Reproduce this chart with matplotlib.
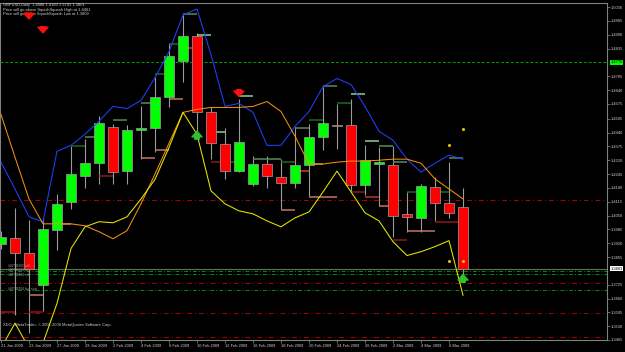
import numpy as np
import matplotlib
matplotlib.use('Agg')
from matplotlib import pyplot as plt
from matplotlib import transforms

#   GBPUSD daily bars
dates = ['21 Jan 2009', '22 Jan 2009', '23 Jan 2009', '26 Jan 2009', '27 Jan 2009', '28 Jan 2009',
         '29 Jan 2009', '30 Jan 2009', '2 Feb 2009', '3 Feb 2009', '4 Feb 2009', '5 Feb 2009',
         '6 Feb 2009', '9 Feb 2009', '10 Feb 2009', '11 Feb 2009', '12 Feb 2009', '13 Feb 2009',
         '16 Feb 2009', '17 Feb 2009', '18 Feb 2009', '19 Feb 2009', '20 Feb 2009', '23 Feb 2009',
         '24 Feb 2009', '25 Feb 2009', '26 Feb 2009', '27 Feb 2009', '2 Mar 2009', '3 Mar 2009',
         '4 Mar 2009', '5 Mar 2009', '6 Mar 2009', '9 Mar 2009']
opens = [1.3918, 1.3946, 1.3872, 1.3722, 1.3984, 1.4115, 1.4236, 1.4297, 1.4465, 1.4260, 1.4451, 1.4460,
         1.4605, 1.4778, 1.4895, 1.4535, 1.4386, 1.4260, 1.4200, 1.4292, 1.4232, 1.4204, 1.4288, 1.4418,
         1.4476, 1.4474, 1.4194, 1.4290, 1.4288, 1.4055, 1.4040, 1.4185, 1.4110, 1.4088]
highs = [1.3975, 1.4085, 1.4030, 1.4040, 1.4150, 1.4376, 1.4409, 1.4516, 1.4479, 1.4474, 1.4563, 1.4703,
         1.4862, 1.4993, 1.4909, 1.4560, 1.4460, 1.4596, 1.4330, 1.4330, 1.4316, 1.4465, 1.4479, 1.4656,
         1.4572, 1.4600, 1.4381, 1.4372, 1.4376, 1.4162, 1.4200, 1.4232, 1.4302, 1.4180]
lows = [1.3895, 1.3582, 1.3500, 1.3600, 1.3890, 1.4080, 1.4180, 1.4200, 1.4200, 1.4200, 1.4316, 1.4350,
        1.4560, 1.4680, 1.4423, 1.4316, 1.4222, 1.4255, 1.4190, 1.4180, 1.4082, 1.4180, 1.4143, 1.4358,
        1.4362, 1.4162, 1.4148, 1.4096, 1.3950, 1.3974, 1.3974, 1.4026, 1.4040, 1.3741]
closes = [1.3951, 1.3872, 1.3797, 1.3988, 1.4106, 1.4246, 1.4297, 1.4484, 1.4255, 1.4451, 1.4460, 1.4605,
          1.4801, 1.4895, 1.4535, 1.4390, 1.4260, 1.4395, 1.4292, 1.4236, 1.4204, 1.4288, 1.4418, 1.4484,
          1.4472, 1.4194, 1.4311, 1.4300, 1.4049, 1.4045, 1.4190, 1.4110, 1.4063, 1.3801]

#   Indicator lines
upper_band = [1.4301, 1.4175, 1.4044, 1.4021, 1.4352, 1.4380, 1.4432, 1.4493, 1.4563, 1.4553, 1.4591, 1.4698,
              1.4820, 1.4993, 1.5021, 1.4806, 1.4563, 1.4577, 1.4535, 1.4380, 1.4380, 1.4469, 1.4539, 1.4656,
              1.4694, 1.4666, 1.4563, 1.4446, 1.4404, 1.4315, 1.4254, 1.4296, 1.4334, 1.4315]
orange_line = [1.4525, 1.4324, 1.4128, 1.4011, 1.4011, 1.4011, 1.4002, 1.3974, 1.3941, 1.3979, 1.4105, 1.4245,
               1.4390, 1.4535, 1.4549, 1.4558, 1.4558, 1.4558, 1.4563, 1.4586, 1.4539, 1.4423, 1.4292, 1.4292,
               1.4301, 1.4306, 1.4306, 1.4310, 1.4315, 1.4315, 1.4296, 1.4222, 1.4175, 1.4128]
yellow_line = [1.3427, 1.3544, 1.3427, 1.3451, 1.3637, 1.3895, 1.3997, 1.4021, 1.4016, 1.4044, 1.4128, 1.4220,
               1.4370, 1.4535, 1.4432, 1.4166, 1.4105, 1.4072, 1.4058, 1.4025, 1.3997, 1.4039, 1.4067, 1.4161,
               1.4259, 1.4161, 1.4063, 1.4025, 1.3927, 1.3862, 1.3880, 1.3904, 1.3932, 1.3675]

#   Order / level lines
green_level = 1.4770
current_price = 1.3801
red_levels = [1.4125, 1.3731, 1.3591, 1.3479]
green_levels = [1.3787, 1.3773, 1.3698]

#   Short level dashes: (bar, price, colour)
dash_marks = [(13, 1.4997, '#5a8a5a'), (12, 1.4857, '#1e6b1e'), (14, 1.4899, '#8fd18f'), (13, 1.4838, '#e03030'),
              (12, 1.4600, '#c07860'), (11, 1.4717, '#1e6b1e'), (10, 1.4577, '#5a8a5a'), (8, 1.4497, '#5a8a5a'),
              (6, 1.4418, '#5a8a5a'), (5, 1.4376, '#1e6b1e'), (7, 1.4236, '#8b1a1a'), (10, 1.4320, '#c07860'),
              (11, 1.4357, '#c07860'), (15, 1.4441, '#8fd18f'), (17, 1.4614, '#8fd18f'), (15, 1.4301, '#8b1a1a'),
              (16, 1.4301, '#1e6b1e'), (18, 1.4315, '#5a8a5a'), (19, 1.4315, '#5a8a5a'), (20, 1.4301, '#1e6b1e'),
              (21, 1.4460, '#5a8a5a'), (20, 1.4077, '#c07860'), (21, 1.4259, '#e03030'), (22, 1.4292, '#c07860'),
              (22, 1.4497, '#1e6b1e'), (23, 1.4661, '#5a8a5a'), (22, 1.4138, '#c07860'), (23, 1.4138, '#c07860'),
              (24, 1.4577, '#1e6b1e'), (25, 1.4619, '#8fd18f'), (25, 1.4161, '#8b1a1a'), (26, 1.4399, '#8fd18f'),
              (26, 1.4138, '#c03030'), (27, 1.4376, '#5a8a5a'), (27, 1.4095, '#c07860'), (28, 1.4301, '#5a8a5a'),
              (28, 1.3937, '#8b1a1a'), (29, 1.4161, '#1e6b1e'), (29, 1.3979, '#c07860'), (30, 1.3979, '#c07860'),
              (31, 1.4161, '#1e6b1e'), (31, 1.4021, '#8b1a1a'), (32, 1.4021, '#8b1a1a'), (32, 1.4320, '#5a8a5a'),
              (4, 1.4011, '#c07860'), (0, 1.3595, '#8b1a1a'), (2, 1.3595, '#8b1a1a'), (2, 1.3675, '#c07860')]

#   Signal arrows: (bar, tail, tip)
down_arrows = [(2, 1.5002, 1.4974), (3, 1.4937, 1.4909), (17, 1.4642, 1.4609)]
up_arrows = [(14, 1.4409, 1.4446), (33, 1.3736, 1.3773)]
dots = [(33, 1.4455), (32, 1.4380), (32, 1.3834), (33, 1.3834)]

price_ticks = [1.5030, 1.4965, 1.4900, 1.4835, 1.4705, 1.4640, 1.4575, 1.4505, 1.4440, 1.4375,
               1.4310, 1.4245, 1.4180, 1.4115, 1.4050, 1.3985, 1.3920, 1.3855, 1.3725, 1.3660,
               1.3595, 1.3530, 1.3465]

orders = [(1.3812, '#20746202 sell'), (1.3792, '#20746203 buy'), (1.3770, '#20746204 sell'),
          (1.3706, '#20746204 buy stop')]

plt.rcParams['font.family'] = ['Liberation Sans', 'DejaVu Sans']
fs = 2.9

fig = plt.figure(figsize=(6.25, 3.52), dpi=100, facecolor='black')
ax = fig.add_axes([0, 12 / 352, 607 / 625, 337 / 352], facecolor='black')

x = np.arange(len(dates))
o = np.array(opens)
c = np.array(closes)
up = c >= o

#   Wicks and bodies
ax.vlines(x, lows, highs, color='#9a9a9a', lw=0.8, zorder=3)
ax.bar(x[up], (c - o)[up], bottom=o[up], width=0.72, color='#00ff00', edgecolor='#a0a0a0', lw=0.5, zorder=4)
ax.bar(x[~up], (o - c)[~up], bottom=c[~up], width=0.72, color='#ff0000', edgecolor='#a0a0a0', lw=0.5, zorder=4)

#   Indicators
ax.plot(x, upper_band, color='#2040ff', lw=0.75, zorder=5)
ax.plot(x, orange_line, color='#f09010', lw=0.75, zorder=5)
ax.plot(x, yellow_line, color='#e8e800', lw=0.75, zorder=5)

#   Horizontal levels
ax.axhline(green_level, color='#00a000', lw=0.7, ls=(0, (3, 2)), zorder=2)
ax.axhline(current_price, color='#6a6a6a', lw=0.8, zorder=2)
for lv in red_levels:
    ax.axhline(lv, color='#b00000', lw=0.7, ls=(0, (5, 3, 1, 3)), zorder=2)
for lv in green_levels:
    ax.axhline(lv, color='#009000', lw=0.7, ls=(0, (4, 2, 1, 2)), zorder=2)

for b, p, col in dash_marks:
    ax.hlines(p, b, b + 1, colors=col, lw=1.1, zorder=3)

arrow_style = 'simple,head_length=0.5,head_width=0.9,tail_width=0.4'
for b, t0, t1 in down_arrows:
    ax.annotate('', xy=(b, t1), xytext=(b, t0), zorder=7,
                arrowprops=dict(arrowstyle=arrow_style, color='#ff1010', mutation_scale=8, shrinkA=0, shrinkB=0))
for b, t0, t1 in up_arrows:
    ax.annotate('', xy=(b, t1), xytext=(b, t0), zorder=7,
                arrowprops=dict(arrowstyle=arrow_style, color='#30c030', mutation_scale=8, shrinkA=0, shrinkB=0))
ax.scatter([d[0] for d in dots], [d[1] for d in dots], s=1.5, color='#e0c000', zorder=6)

for p, txt in orders:
    ax.text(0.5, p, txt, fontsize=2.3, color='#a0a0a0', va='center', ha='left', zorder=8)

#   Texts
ax.text(0.005, 0.994, 'GBPUSD,Daily  1.4088 1.4180 1.3741 1.3801', transform=ax.transAxes,
        fontsize=fs, color='#d0d0d0', va='center', ha='left')
ax.text(0.005, 0.980, 'Price will go above SquishSquash High at 1.4461', transform=ax.transAxes,
        fontsize=fs, color='#d0d0d0', va='center', ha='left')
ax.text(0.005, 0.967, 'Price will go below SquishSquash Low at 1.3809', transform=ax.transAxes,
        fontsize=fs, color='#d0d0d0', va='center', ha='left')
ax.text(0.005, 0.045, 'XDO - MetaTrader, \u00a9 2001-2008 MetaQuotes Software Corp.', transform=ax.transAxes,
        fontsize=fs, color='#d0d0d0', va='center', ha='left')

#   Axes
ax.set_xlim(-1 / 14, 606 / 14)
ax.set_ylim(1.3474, 1.5049)
ax.set_xticks(x[::2])
ax.set_xticklabels(dates[::2], ha='left')
ax.yaxis.tick_right()
ax.set_yticks(price_ticks)
ax.set_yticklabels(['%.4f' % v for v in price_ticks])
ax.tick_params(axis='both', colors='#909090', labelcolor='#d0d0d0', labelsize=fs, length=2, width=0.5, pad=1)
for s in ax.spines.values():
    s.set_color('#808080')
    s.set_linewidth(0.8)

tr = transforms.blended_transform_factory(ax.transAxes, ax.transData)
ax.text(1.006, green_level, '%.4f' % green_level, transform=tr, fontsize=fs, color='black', va='center',
        ha='left', bbox=dict(facecolor='#00ff00', edgecolor='none', pad=0.4))
ax.text(1.006, current_price, '%.4f' % current_price, transform=tr, fontsize=fs, color='black', va='center',
        ha='left', bbox=dict(facecolor='white', edgecolor='none', pad=0.4))

plt.savefig('out.png', dpi=100, facecolor='black')
